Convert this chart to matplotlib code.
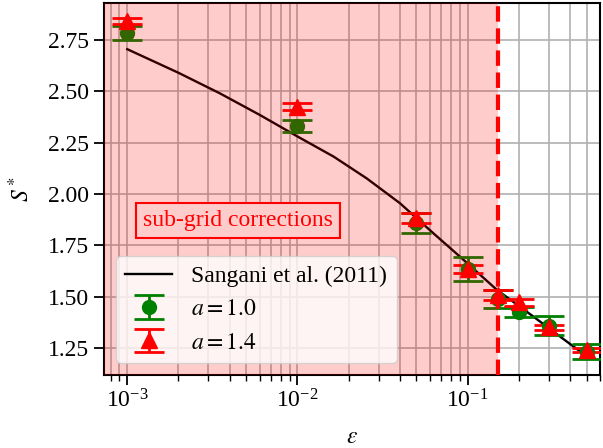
import matplotlib
matplotlib.use("Agg")

import matplotlib.pyplot as plt
from matplotlib.ticker import MultipleLocator

plt.rcParams["font.family"] = "serif"
plt.rcParams["font.serif"] = ["Liberation Serif", "DejaVu Serif"]
plt.rcParams["mathtext.fontset"] = "stix"
plt.rcParams["font.size"] = 17

# ---------------------------------------------------------
# data
# ---------------------------------------------------------

eps = [0.001, 0.01, 0.05, 0.1, 0.15, 0.2, 0.3, 0.5]

s_a10 = [2.783, 2.331, 1.859, 1.636, 1.488, 1.424, 1.358, 1.232]
err_a10 = [0.035, 0.027, 0.047, 0.058, 0.045, 0.026, 0.045, 0.037]

s_a14 = [2.843, 2.424, 1.883, 1.634, 1.508, 1.472, 1.350, 1.240]
err_a14 = [0.013, 0.017, 0.026, 0.018, 0.024, 0.016, 0.012, 0.010]

# Sangani et al. (2011) reference curve
eps_ref = [0.001, 0.002, 0.0035, 0.006, 0.01, 0.0163, 0.0255, 0.04,
           0.063, 0.09, 0.149, 0.244, 0.384, 0.5]
s_ref = [2.705, 2.590, 2.490, 2.385, 2.280, 2.182, 2.076, 1.955,
         1.808, 1.695, 1.532, 1.402, 1.280, 1.210]

eps_cut = 0.15

# ---------------------------------------------------------
# figure
# ---------------------------------------------------------

fig = plt.figure(figsize=(6.03, 4.48), dpi=100)
ax = fig.add_axes([0.1725, 0.163, 0.8225, 0.8303])

ax.plot(eps_ref, s_ref, color="black", lw=1.7, zorder=2,
        label="Sangani et al. (2011)")

eb_kw = dict(linestyle="none", elinewidth=2, capsize=11, capthick=2, zorder=3)
ax.errorbar(eps, s_a10, yerr=err_a10, fmt="o", color="green", ms=10,
            label=r"$a = 1.0$", **eb_kw)
ax.errorbar(eps, s_a14, yerr=err_a14, fmt="^", color="red", ms=12,
            label=r"$a = 1.4$", **eb_kw)

ax.text(0.270, 0.4145, "sub-grid corrections", color="red", fontsize=17,
        ha="center", va="center", transform=ax.transAxes, zorder=3,
        bbox=dict(boxstyle="square,pad=0.3", facecolor="white",
                  edgecolor="red", lw=1.5))

# shaded region below the cut-off, drawn over the data
ax.axvspan(1e-4, eps_cut, color="red", alpha=0.2, lw=0, zorder=4)
ax.axvline(eps_cut, color="red", lw=3, ls="--", zorder=5)

ax.set_xscale("log")
ax.set_xlim(7.3e-4, 0.6)
ax.set_ylim(1.118, 2.93)
ax.yaxis.set_major_locator(MultipleLocator(0.25))

ax.grid(True, which="both", color="#b0b0b0", lw=1.2, zorder=0)
ax.set_axisbelow(True)

ax.tick_params(which="major", length=7, width=1.3)
ax.tick_params(which="minor", length=4, width=1.0)
for sp in ax.spines.values():
    sp.set_linewidth(1.5)

ax.set_xlabel(r"$\varepsilon$", fontsize=17, labelpad=10)
ax.set_ylabel(r"$S^*$", fontsize=17, labelpad=10)

leg = ax.legend(loc="lower left", fontsize=17, framealpha=0.8)
leg.set_zorder(6)

fig.savefig("out.png", dpi=100)
